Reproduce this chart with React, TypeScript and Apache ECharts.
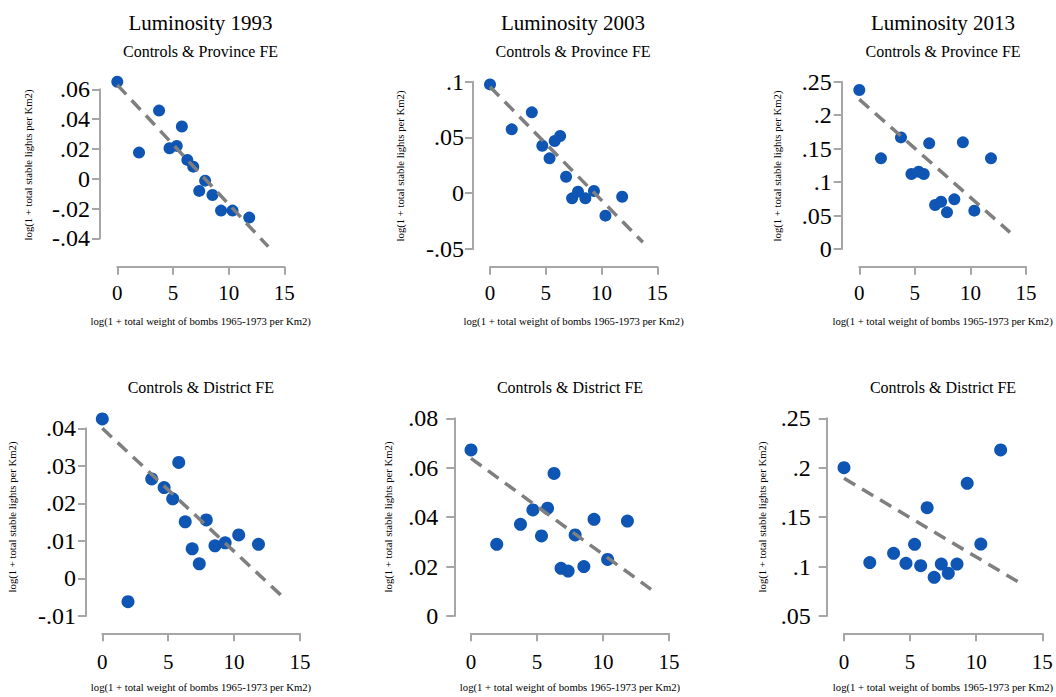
import React, { useEffect, useRef } from "react";
import * as echarts from "echarts";

// ---------- DATA ----------
const bombBins = [0, 1.95, 3.75, 4.69, 5.34, 5.8, 6.29, 6.82, 7.36, 7.89, 8.55, 9.32, 10.35, 11.85];

const lum1993Province = [0.0651, 0.0175, 0.0457, 0.0204, 0.022, 0.035, 0.0126, 0.0081, -0.0082, -0.0013, -0.0109, -0.0214, -0.0214, -0.0261];
const lum2003Province = [0.0976, 0.0573, 0.0725, 0.0426, 0.0313, 0.0468, 0.0513, 0.0148, -0.0046, 0.0014, -0.0046, 0.002, -0.0201, -0.0031];
const lum2013Province = [0.2375, 0.1355, 0.1668, 0.112, 0.1155, 0.112, 0.1579, 0.0657, 0.0707, 0.0548, 0.0742, 0.1594, 0.0573, 0.1355];
const lum1993District = [0.0425, -0.0062, 0.0265, 0.0242, 0.0212, 0.0309, 0.0151, 0.0079, 0.0039, 0.0156, 0.0087, 0.0095, 0.0116, 0.0091];
const lum2003District = [0.0672, 0.029, 0.0371, 0.0429, 0.0324, 0.0436, 0.0577, 0.0193, 0.0182, 0.0328, 0.02, 0.0391, 0.0229, 0.0384];
const lum2013District = [0.2001, 0.104, 0.1134, 0.1033, 0.1225, 0.1009, 0.1596, 0.0891, 0.1026, 0.0932, 0.1026, 0.1842, 0.1228, 0.218];

// fitted line endpoints: [x0, y0, x1, y1]
const fit1993Province = [0, 0.063, 13.56, -0.0456];
const fit2003Province = [0, 0.0955, 13.7, -0.044];
const fit2013Province = [0, 0.2236, 13.56, 0.0249];
const fit1993District = [0, 0.04, 13.66, -0.0048];
const fit2003District = [0, 0.0638, 13.64, 0.0108];
const fit2013District = [0, 0.1893, 13.56, 0.0814];

// y-axis ranges [min, max, interval]
const yRange1993Province = [-0.04, 0.06, 0.02];
const yRange2003Province = [-0.05, 0.1, 0.05];
const yRange2013Province = [0, 0.25, 0.05];
const yRange1993District = [-0.01, 0.04, 0.01];
const yRange2003District = [0, 0.08, 0.02];
const yRange2013District = [0.05, 0.25, 0.05];

const xTicks = [0, 15, 5];

const columnTitles = ["Luminosity 1993", "Luminosity 2003", "Luminosity 2013"];
const rowSubtitles = ["Controls & Province FE", "Controls & District FE"];
const xTitle = "log(1 + total weight of bombs 1965-1973 per Km2)";
const yTitle = "log(1 + total stable lights per Km2)";

// ---------- LAYOUT ----------
const FONT = "Liberation Serif";
const BLUE = "#0e55b4";
const AXIS = "#a6a6a6";

const panels = [
  { ys: lum1993Province, fit: fit1993Province, yr: yRange1993Province, l: 117.3, r: 284.3, t: 89.3, b: 238.3, yAx: 100, xAx: 266.7, yLm: 10, xLm: 16, sym: 12, yt: [28, 165], xt: [200.7, 321], st: [200.5, 51.5], tt: [200.5, 23] },
  { ys: lum2003Province, fit: fit2003Province, yr: yRange2003Province, l: 490, r: 657.3, t: 81.7, b: 249, yAx: 473, xAx: 266.7, yLm: 9, xLm: 16, sym: 12, yt: [400, 166], xt: [573.6, 321], st: [573, 51.5], tt: [573, 23] },
  { ys: lum2013Province, fit: fit2013Province, yr: yRange2013Province, l: 859.3, r: 1026, t: 81.7, b: 249, yAx: 841.7, xAx: 266.7, yLm: 10, xLm: 16, sym: 12, yt: [777, 166], xt: [942.6, 321], st: [943, 51.5], tt: [943, 23] },
  { ys: lum1993District, fit: fit1993District, yr: yRange1993District, l: 102.3, r: 300, t: 428.3, b: 616, yAx: 86, xAx: 633.3, yLm: 10, xLm: 18, sym: 13, yt: [12, 517], xt: [201, 687], st: [200.8, 387.5] },
  { ys: lum2003District, fit: fit2003District, yr: yRange2003District, l: 471, r: 669, t: 418.3, b: 616, yAx: 454.3, xAx: 633.3, yLm: 16, xLm: 18, sym: 13, yt: [388, 517], xt: [570, 687], st: [570, 387.5] },
  { ys: lum2013District, fit: fit2013District, yr: yRange2013District, l: 844, r: 1042.3, t: 418.3, b: 616, yAx: 826.7, xAx: 633.3, yLm: 16, xLm: 18, sym: 13, yt: [762, 517], xt: [943, 687], st: [943, 387.5] },
];

function fmt(v: number): string {
  const s = String(parseFloat(v.toFixed(4)));
  return s.replace(/^(-?)0\./, "$1.");
}

function buildOption() {
  const grid: any[] = [];
  const xAxis: any[] = [];
  const yAxis: any[] = [];
  const series: any[] = [];
  const graphic: any[] = [];
  const axisLineStyle = { color: AXIS, width: 2 };
  const tickLabel = (size: number, margin: number, formatter?: any) => ({
    show: true,
    fontSize: size,
    fontFamily: FONT,
    fontWeight: "normal",
    color: "#000",
    margin,
    ...(formatter ? { formatter } : {}),
  });

  panels.forEach((p, i) => {
    grid.push({
      left: p.l,
      top: p.t,
      width: p.r - p.l,
      height: p.b - p.t,
      containLabel: false,
      outerBoundsMode: "none",
      show: false,
    });
    xAxis.push({
      gridIndex: i,
      type: "value",
      min: xTicks[0],
      max: xTicks[1],
      interval: xTicks[2],
      offset: p.xAx - p.b,
      axisLine: { show: true, onZero: false, lineStyle: axisLineStyle },
      axisTick: { show: true, length: 8, inside: false, lineStyle: axisLineStyle },
      axisLabel: tickLabel(21, p.xLm),
      splitLine: { show: false },
    });
    yAxis.push({
      gridIndex: i,
      type: "value",
      min: p.yr[0],
      max: p.yr[1],
      interval: p.yr[2],
      offset: p.l - p.yAx,
      axisLine: { show: true, onZero: false, lineStyle: axisLineStyle },
      axisTick: { show: true, length: 8, inside: false, lineStyle: axisLineStyle },
      axisLabel: tickLabel(24, p.yLm, (v: number) => fmt(v)),
      splitLine: { show: false },
    });
    series.push({
      type: "scatter",
      xAxisIndex: i,
      yAxisIndex: i,
      data: bombBins.map((x, j) => [x, p.ys[j]]),
      symbol: "circle",
      symbolSize: p.sym,
      itemStyle: { color: BLUE, opacity: 1 },
      clip: false,
      z: 2,
    });
    series.push({
      type: "line",
      xAxisIndex: i,
      yAxisIndex: i,
      data: [
        [p.fit[0], p.fit[1]],
        [p.fit[2], p.fit[3]],
      ],
      symbol: "none",
      lineStyle: { color: "#7f7f7f", width: 3.5, type: [13, 8], cap: "butt" },
      clip: false,
      z: 3,
    });

    graphic.push({
      type: "text",
      x: p.yt[0],
      y: p.yt[1],
      rotation: Math.PI / 2,
      style: { text: yTitle, fontSize: 10.7, fontFamily: FONT, fill: "#000", align: "center", verticalAlign: "middle" },
    });
    graphic.push({
      type: "text",
      x: p.xt[0],
      y: p.xt[1],
      style: { text: xTitle, fontSize: 10.7, fontFamily: FONT, fill: "#000", align: "center", verticalAlign: "middle" },
    });
    graphic.push({
      type: "text",
      x: p.st[0],
      y: p.st[1],
      style: { text: rowSubtitles[i < 3 ? 0 : 1], fontSize: 16, fontFamily: FONT, fill: "#000", align: "center", verticalAlign: "middle" },
    });
    if (p.tt) {
      graphic.push({
        type: "text",
        x: p.tt[0],
        y: p.tt[1],
        style: { text: columnTitles[i], fontSize: 21, fontFamily: FONT, fill: "#000", align: "center", verticalAlign: "middle" },
      });
    }
  });

  return {
    animation: false,
    backgroundColor: "#ffffff",
    textStyle: { fontFamily: FONT },
    grid,
    xAxis,
    yAxis,
    series,
    graphic,
  };
}

export default function App() {
  const ref = useRef<HTMLDivElement>(null);
  useEffect(() => {
    if (!ref.current) return;
    const chart = echarts.init(ref.current, undefined, { renderer: "svg" });
    chart.setOption(buildOption() as any);
    return () => chart.dispose();
  }, []);
  return (
    <div
      ref={ref}
      style={{ position: "fixed", left: 0, top: 0, width: 1056, height: 697, background: "#fff" }}
    />
  );
}
